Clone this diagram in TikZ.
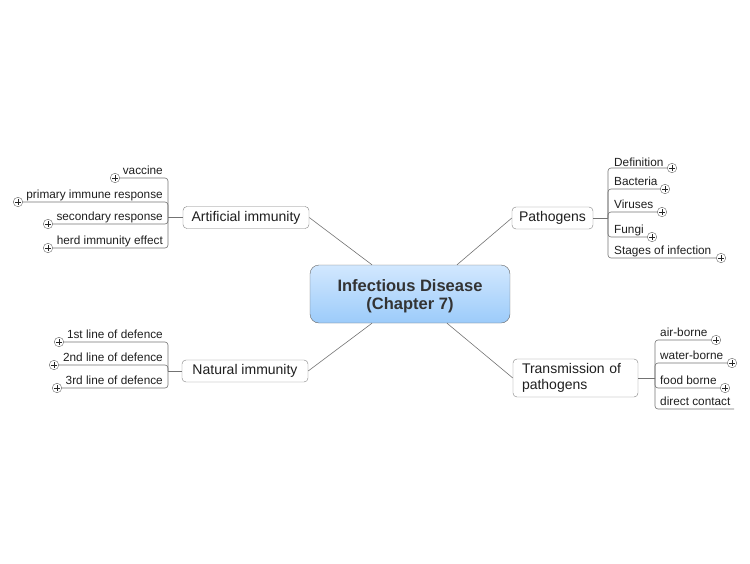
\documentclass[tikz,border=0pt]{standalone}
\usepackage{fontspec}
\setmainfont{Liberation Sans}
\definecolor{rootTop}{HTML}{D2E8FE}
\definecolor{rootBot}{HTML}{9CCBFA}
\definecolor{inkDark}{HTML}{333333}
\begin{document}
\begin{tikzpicture}[x=1pt,y=-1pt,
  link/.style={draw=black!55,line width=0.6pt},
  topic/.style={draw=black!50,fill=white,rounded corners=4pt,inner sep=0pt,
    font=\fontsize{14}{16}\selectfont,text=black!88},
  leaf/.style={inner sep=0pt,font=\fontsize{11.8}{14}\selectfont,text=black!88},
  plus/.style={circle,draw=black!60,fill=white,minimum size=9.5pt,inner sep=0pt,
    path picture={\draw[black!85,line width=0.6pt]
      ([xshift=-2.6pt]path picture bounding box.center) -- ([xshift=2.6pt]path picture bounding box.center)
      ([yshift=-2.6pt]path picture bounding box.center) -- ([yshift=2.6pt]path picture bounding box.center);}}]
  \useasboundingbox (0,0) rectangle (750,563);

  \node[topic,draw=black!60,minimum width=200pt,minimum height=58pt,rounded corners=9pt,
    top color=rootTop,bottom color=rootBot,align=center,text=inkDark,
    font=\bfseries\fontsize{16.5}{18.5}\selectfont] (root) at (410,294) {\rule{0pt}{16pt}Infectious Disease\\(Chapter 7)};
  \node[topic,minimum width=126pt,minimum height=22pt] (art) at (246,217.5) {Artificial immunity};
  \node[topic,minimum width=81pt,minimum height=22pt] (path) at (552.5,218) {Pathogens};
  \node[topic,minimum width=126pt,minimum height=22pt] (nat) at (245,371) {Natural immunity};
  \node[topic,minimum width=125pt,minimum height=38pt,align=left,text width=107pt] (trans) at (575.5,378) {Transmission of\\pathogens};

  \draw[link] (art.east) -- ([xshift=-38pt]root.north);
  \draw[link] (path.west) -- ([xshift=47pt]root.north);
  \draw[link] (nat.east) -- ([xshift=-38pt]root.south);
  \draw[link] (trans.west) -- ([xshift=37pt]root.south);

  \coordinate (abus) at (168,217.5);
  \draw[link] (art.west) -- (abus);
  \node[leaf,anchor=base east] (a1t) at (163,174) {vaccine};
  \node[leaf,anchor=base east] (a2t) at (163,198) {primary immune response};
  \node[leaf,anchor=base east] (a3t) at (163,220) {secondary response};
  \node[leaf,anchor=base east] (a4t) at (163,244) {herd immunity effect};
  \node[plus] (a1) at (115,178) {};
  \node[plus] (a2) at (18,202) {};
  \node[plus] (a3) at (48,224) {};
  \node[plus] (a4) at (48,248) {};
  \draw[link,rounded corners=3pt] (a1.east) -- (a1.east -| abus) -- (abus);
  \draw[link,rounded corners=3pt] (a2.east) -- (a2.east -| abus) -- (abus);
  \draw[link,rounded corners=3pt] (a3.east) -- (a3.east -| abus) -- (abus);
  \draw[link,rounded corners=3pt] (a4.east) -- (a4.east -| abus) -- (abus);

  \coordinate (nbus) at (168,371);
  \draw[link] (nat.west) -- (nbus);
  \node[leaf,anchor=base east] (n1t) at (163,338) {1st line of defence};
  \node[leaf,anchor=base east] (n2t) at (163,361) {2nd line of defence};
  \node[leaf,anchor=base east] (n3t) at (163,384) {3rd line of defence};
  \node[plus] (n1) at (59,342) {};
  \node[plus] (n2) at (54,365) {};
  \node[plus] (n3) at (57,388) {};
  \draw[link,rounded corners=3pt] (n1.east) -- (n1.east -| nbus) -- (nbus);
  \draw[link,rounded corners=3pt] (n2.east) -- (n2.east -| nbus) -- (nbus);
  \draw[link,rounded corners=3pt] (n3.east) -- (n3.east -| nbus) -- (nbus);

  \coordinate (pbus) at (608,218);
  \draw[link] (path.east) -- (pbus);
  \node[leaf,anchor=base west] (p1t) at (614,166) {Definition};
  \node[leaf,anchor=base west] (p2t) at (614,185) {Bacteria};
  \node[leaf,anchor=base west] (p3t) at (614,208) {Viruses};
  \node[leaf,anchor=base west] (p4t) at (614,233) {Fungi};
  \node[leaf,anchor=base west] (p5t) at (614,254) {Stages of infection};
  \node[plus] (p1) at (672,168) {};
  \node[plus] (p2) at (665,189) {};
  \node[plus] (p3) at (662,212) {};
  \node[plus] (p4) at (652,237) {};
  \node[plus] (p5) at (721,258) {};
  \draw[link,rounded corners=3pt] (pbus) -- (pbus |- p1.west) -- (p1.west);
  \draw[link,rounded corners=3pt] (pbus) -- (pbus |- p2.west) -- (p2.west);
  \draw[link,rounded corners=3pt] (pbus) -- (pbus |- p3.west) -- (p3.west);
  \draw[link,rounded corners=3pt] (pbus) -- (pbus |- p4.west) -- (p4.west);
  \draw[link,rounded corners=3pt] (pbus) -- (pbus |- p5.west) -- (p5.west);

  \coordinate (tbus) at (655,378);
  \draw[link] (trans.east) -- (tbus);
  \node[leaf,anchor=base west] (t1t) at (660,336) {air-borne};
  \node[leaf,anchor=base west] (t2t) at (660,359) {water-borne};
  \node[leaf,anchor=base west] (t3t) at (660,384) {food borne};
  \node[leaf,anchor=base west] (t4t) at (660,405) {direct contact};
  \node[plus] (t1) at (716,340) {};
  \node[plus] (t2) at (732,363) {};
  \node[plus] (t3) at (725,388) {};
  \coordinate (t4) at (734,409);
  \draw[link,rounded corners=3pt] (tbus) -- (tbus |- t1.west) -- (t1.west);
  \draw[link,rounded corners=3pt] (tbus) -- (tbus |- t2.west) -- (t2.west);
  \draw[link,rounded corners=3pt] (tbus) -- (tbus |- t3.west) -- (t3.west);
  \draw[link,rounded corners=3pt] (tbus) -- (tbus |- t4) -- (t4);
\end{tikzpicture}
\end{document}
